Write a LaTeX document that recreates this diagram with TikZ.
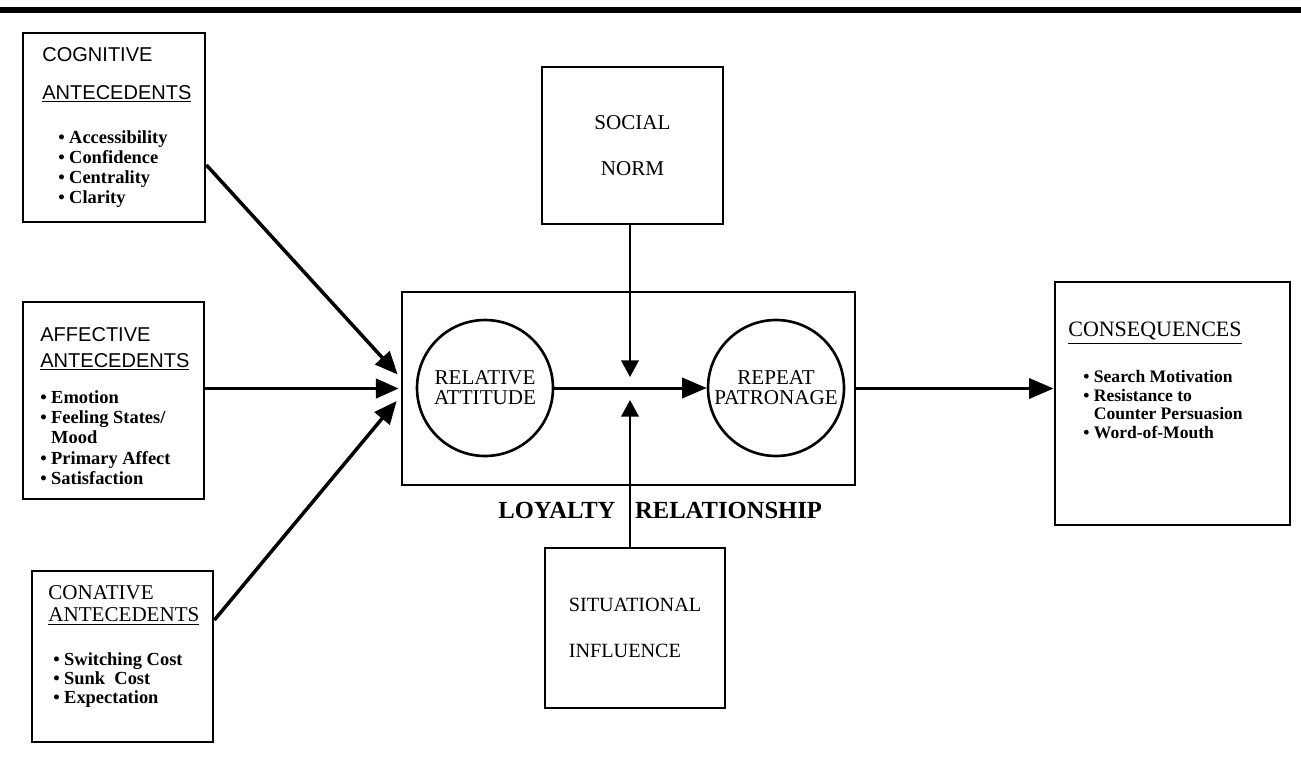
\documentclass[tikz,border=0pt]{standalone}
\usepackage{fontspec}
\setmainfont{Liberation Serif}
\newfontfamily\headsans{Liberation Sans}
\usetikzlibrary{arrows.meta, calc, positioning}

\begin{document}
\begin{tikzpicture}[x=0.02cm, y=-0.02cm,
  box/.style={draw, line width=1.6pt, inner sep=0pt},
  ring/.style={draw, circle, line width=1.5pt, inner sep=0pt, minimum size=2.72cm, align=center, font=\fontsize{12}{11.3}\selectfont},
  items/.style={anchor=north west, inner sep=0pt, align=left},
  arr/.style={line width=1.7pt, -{Triangle[length=14pt, width=11.5pt]}},
  inarr/.style={line width=2pt, -{Triangle[length=13pt, width=11pt]}},
  varr/.style={line width=1.2pt, -{Triangle[length=9.5pt, width=10pt]}}]
\useasboundingbox (0,0) rectangle (1301,778);

% Rule along the top
\draw[line width=3pt] (0,10) -- (1301,10);

% Antecedent boxes
\node[box, minimum width=3.64cm, minimum height=3.78cm] (cog) at (114,127.5) {};
\node[box, minimum width=3.62cm, minimum height=3.94cm] (aff) at (113.5,400.5) {};
\node[box, minimum width=3.62cm, minimum height=3.42cm] (con) at (122.5,656.5) {};

\node[items, font=\headsans\fontsize{11.4}{21.5}\selectfont] (coghead) at (42,47) {COGNITIVE\\\underline{ANTECEDENTS}};
\node[items, font=\fontsize{10.5}{11.4}\selectfont\bfseries] (coglist) at (58,130) {\textbullet\hspace{2.5pt}Accessibility\\\textbullet\hspace{2.5pt}Confidence\\\textbullet\hspace{2.5pt}Centrality\\\textbullet\hspace{2.5pt}Clarity};

\node[items, font=\headsans\fontsize{11.4}{14.7}\selectfont] (affhead) at (40,327) {AFFECTIVE\\\underline{ANTECEDENTS}};
\node[items, font=\fontsize{10.5}{11.6}\selectfont\bfseries] (afflist) at (40,390) {\textbullet\hspace{2.5pt}Emotion\\\textbullet\hspace{2.5pt}Feeling States/\\\hphantom{\textbullet\hspace{2.5pt}}Mood\\\textbullet\hspace{2.5pt}Primary Affect\\\textbullet\hspace{2.5pt}Satisfaction};

\node[items, font=\fontsize{12}{12.5}\selectfont] (conhead) at (48,585) {CONATIVE\\\underline{ANTECEDENTS}};
\node[items, font=\fontsize{10.5}{10.8}\selectfont\bfseries] (conlist) at (53,652) {\textbullet\hspace{2.5pt}Switching Cost\\\textbullet\hspace{2.5pt}Sunk\ \ Cost\\\textbullet\hspace{2.5pt}Expectation};

% Moderators
\node[box, minimum width=3.62cm, minimum height=3.14cm, align=center, font=\fontsize{12}{26}\selectfont] (social) at (632.5,145.5) {SOCIAL\\NORM};
\node[box, minimum width=3.6cm, minimum height=3.2cm, align=left, font=\fontsize{11.5}{26}\selectfont] (situ) at (635,628) {SITUATIONAL\\INFLUENCE};

% Loyalty relationship
\node[box, minimum width=9.06cm, minimum height=3.86cm] (loop) at (628.5,388.5) {};
\node[ring] (relatt) at (485,388) {RELATIVE\\ATTITUDE};
\node[ring] (repeat) at (776,388) {REPEAT\\PATRONAGE};
\node[anchor=base west, inner sep=0pt, font=\fontsize{14}{16}\selectfont\bfseries] (lrlabel) at (498,518) {LOYALTY\hspace{0.8em}RELATIONSHIP};

% Consequences
\node[box, minimum width=4.7cm, minimum height=4.86cm] (cons) at (1172.5,403.5) {};
\node[items, font=\fontsize{12.5}{14}\selectfont] (conshead) at (1068,322) {\underline{CONSEQUENCES}};
\node[items, font=\fontsize{10}{10.6}\selectfont\bfseries] (conslist) at (1083,370) {\textbullet\hspace{2.5pt}Search Motivation\\\textbullet\hspace{2.5pt}Resistance to\\\hphantom{\textbullet\hspace{2.5pt}}Counter Persuasion\\\textbullet\hspace{2.5pt}Word-of-Mouth};

% Arrows into the relationship
\draw[inarr] ($(cog.east)+(0,37.5)$) -- ($(loop.west)+(-3,-14)$);
\draw[inarr] (aff.east |- loop.west) -- ($(loop.west)+(-2,0)$);
\draw[inarr] ($(con.east)+(0,-36.5)$) -- ($(loop.west)+(-4,12.5)$);
\draw[arr] (relatt) -- (repeat);
\draw[arr] (loop.east) -- (loop.east -| cons.west);

% Moderating arrows
\coordinate (jtop) at (630,377);
\coordinate (jbot) at (630,400);
\draw[varr] (social.south -| jtop) -- (jtop);
\draw[varr] (situ.north -| jbot) -- (jbot);
\end{tikzpicture}
\end{document}
